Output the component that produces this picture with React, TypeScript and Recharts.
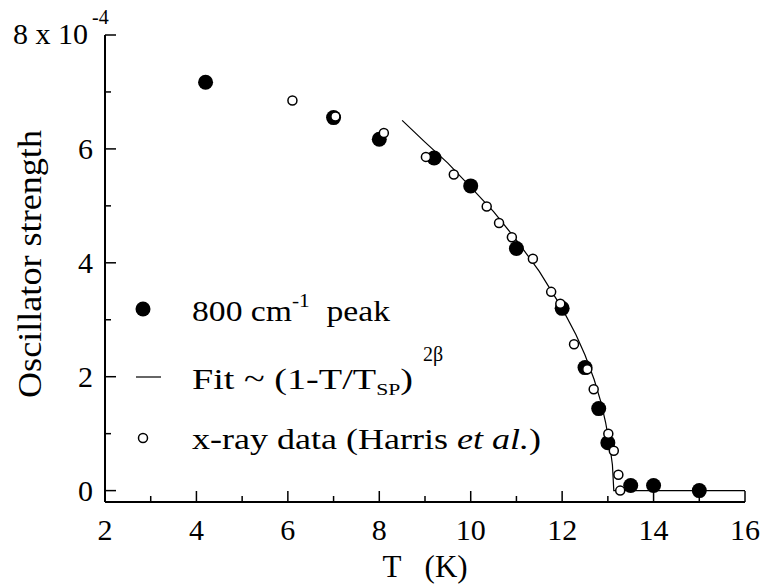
import React from 'react';
import { ComposedChart, Scatter, Line, XAxis, YAxis, Legend } from 'recharts';

// 800 cm-1 peak (filled circles)
const peakTemp = [4.2, 7.0, 8.0, 9.2, 10.0, 11.0, 12.0, 12.5, 12.8, 13.0, 13.5, 14.0, 15.0];
const peakStrength = [7.17, 6.55, 6.17, 5.84, 5.35, 4.25, 3.2, 2.16, 1.44, 0.84, 0.09, 0.09, 0.0];

// x-ray data, Harris et al. (open circles)
const xrayTemp = [6.1, 7.04, 8.1, 9.02, 9.63, 10.35, 10.62, 10.9, 11.36, 11.76, 11.96, 12.26, 12.55, 12.69, 13.01, 13.13, 13.23, 13.27];
const xrayStrength = [6.85, 6.57, 6.28, 5.86, 5.55, 4.99, 4.7, 4.45, 4.07, 3.49, 3.28, 2.57, 2.13, 1.78, 1.0, 0.7, 0.28, 0.0];

// fit curve
const fitTemp = [8.5, 9.0, 9.5, 10.0, 10.5, 11.0, 11.5, 12.0, 12.3, 12.5, 12.7, 12.85, 12.95, 13.05, 13.1, 13.13, 16];
const fitStrength = [6.5, 6.12, 5.75, 5.33, 4.9, 4.4, 3.85, 3.2, 2.74, 2.38, 1.95, 1.55, 1.2, 0.75, 0.45, 0.0, 0.0];

const xTicks = [2, 3, 4, 5, 6, 7, 8, 9, 10, 11, 12, 13, 14, 15, 16];
const yTicks = [0, 1, 2, 3, 4, 5, 6, 7, 8];

const FONT = "'Liberation Serif', serif";

const toPoints = (xs: number[], ys: number[]) => xs.map((t, i) => ({ t, s: ys[i] }));
const peakData = toPoints(peakTemp, peakStrength);
const xrayData = toPoints(xrayTemp, xrayStrength);
const fitData = toPoints(fitTemp, fitStrength);

const MAJOR = 11;
const MINOR = 6;

const BottomTick = (props: any) => {
  const { x, y, payload } = props;
  const v = payload.value;
  const major = v % 2 === 0;
  return (
    <g>
      <line x1={x} x2={x} y1={y} y2={y - (major ? MAJOR : MINOR)} stroke="#000" strokeWidth={1.5} />
      {major && (
        <text x={x} y={y + 38} textAnchor="middle" fontFamily={FONT} fontSize={30} fill="#000">
          {v}
        </text>
      )}
    </g>
  );
};

const TopTick = (props: any) => {
  const { x, y, payload } = props;
  const major = payload.value % 2 === 0;
  return <line x1={x} x2={x} y1={y} y2={y + (major ? MAJOR : MINOR)} stroke="#000" strokeWidth={1.5} />;
};

const LeftTick = (props: any) => {
  const { x, y, payload } = props;
  const v = payload.value;
  const major = v % 2 === 0;
  let label = null;
  if (v === 8) {
    label = (
      <text x={13} y={y + 9} fontFamily={FONT} fontSize={30} fill="#000">
        8 x 10
        <tspan fontSize={20} dx={4} dy={-20}>-4</tspan>
      </text>
    );
  } else if (major) {
    label = (
      <text x={x - 12} y={y + 10} textAnchor="end" fontFamily={FONT} fontSize={30} fill="#000">
        {v}
      </text>
    );
  }
  return (
    <g>
      <line x1={x} x2={x + (major ? MAJOR : MINOR)} y1={y} y2={y} stroke="#000" strokeWidth={1.5} />
      {label}
    </g>
  );
};

const RightTick = (props: any) => {
  const { x, y, payload } = props;
  const major = payload.value % 2 === 0;
  return <line x1={x} x2={x - (major ? MAJOR : MINOR)} y1={y} y2={y} stroke="#000" strokeWidth={1.5} />;
};

const YTitle = () => (
  <text
    x={41}
    y={264}
    transform="rotate(-90, 41, 264)"
    textAnchor="middle"
    fontFamily={FONT}
    fontSize={34}
    fill="#000"
    textLength={268}
    lengthAdjust="spacingAndGlyphs"
  >
    Oscillator strength
  </text>
);

const filledDot = (p: any) => <circle cx={p.cx} cy={p.cy} r={7.5} fill="#000" />;
const openDot = (p: any) => <circle cx={p.cx} cy={p.cy} r={4.5} fill="#fff" stroke="#000" strokeWidth={1.5} />;

const LegendBox = () => (
  <svg width={763} height={585} style={{ display: 'block' }}>
    <g fontFamily={FONT} fontSize={30} fill="#000">
      <circle cx={143} cy={309} r={7.5} fill="#000" />
      <text x={192} y={321} textLength={198} lengthAdjust="spacingAndGlyphs">
        800 cm<tspan fontSize={19} dy={-14}>-1</tspan>
        <tspan dy={14}>{'\u00a0\u00a0peak'}</tspan>
      </text>
      <line x1={136} x2={161} y1={377} y2={377} stroke="#000" strokeWidth={1.2} />
      <text x={192} y={389} textLength={221} lengthAdjust="spacingAndGlyphs">
        Fit ~ (1-T/T<tspan fontSize={17} dy={6}>SP</tspan>
        <tspan dy={-6}>)</tspan>
      </text>
      <text x={423} y={361} fontSize={20}>2{'\u03b2'}</text>
      <circle cx={143} cy={438} r={4.5} fill="#fff" stroke="#000" strokeWidth={1.5} />
      <text x={192} y={449} textLength={349} lengthAdjust="spacingAndGlyphs">
        x-ray data (Harris <tspan fontStyle="italic">et al.</tspan>)
      </text>
    </g>
  </svg>
);

export default function App() {
  return (
    <div style={{ position: 'absolute', left: 0, top: 0, background: '#fff' }}>
      <ComposedChart width={763} height={585} margin={{ top: 35, right: 18, bottom: 0, left: 0 }}>
        <XAxis
          xAxisId="b"
          dataKey="t"
          type="number"
          domain={[2, 16]}
          ticks={xTicks}
          interval={0}
          allowDataOverflow
          height={83}
          tickSize={0}
          tickMargin={0}
          tick={BottomTick}
          axisLine={{ stroke: '#000', strokeWidth: 2 }}
          label={{ value: 'T\u00a0\u00a0\u00a0(K)', position: 'insideBottom', offset: 8, fontFamily: FONT, fontSize: 31, fill: '#000' }}
        />
        <XAxis
          xAxisId="t"
          dataKey="t"
          orientation="top"
          type="number"
          domain={[2, 16]}
          ticks={xTicks}
          interval={0}
          allowDataOverflow
          height={0}
          tickSize={0}
          tickMargin={0}
          tick={TopTick}
          axisLine={{ stroke: '#000', strokeWidth: 2 }}
        />
        <YAxis
          yAxisId="l"
          type="number"
          domain={[-0.2, 8]}
          ticks={yTicks}
          interval={0}
          allowDataOverflow
          width={105}
          tickSize={0}
          tickMargin={0}
          tick={LeftTick}
          axisLine={{ stroke: '#000', strokeWidth: 2 }}
          label={<YTitle />}
        />
        <YAxis
          yAxisId="r"
          orientation="right"
          type="number"
          domain={[-0.2, 8]}
          ticks={yTicks}
          interval={0}
          allowDataOverflow
          width={0}
          tickSize={0}
          tickMargin={0}
          tick={RightTick}
          axisLine={{ stroke: '#000', strokeWidth: 2 }}
        />
        <Line
          xAxisId="b"
          yAxisId="l"
          data={fitData}
          dataKey="s"
          type="linear"
          stroke="#000"
          strokeWidth={1.2}
          dot={false}
          activeDot={false}
          isAnimationActive={false}
        />
        <Scatter xAxisId="b" yAxisId="l" data={peakData} dataKey="s" shape={filledDot} isAnimationActive={false} />
        <Scatter xAxisId="b" yAxisId="l" data={xrayData} dataKey="s" shape={openDot} isAnimationActive={false} />
        <Legend
          layout="vertical"
          align="center"
          verticalAlign="middle"
          wrapperStyle={{ left: 0, top: 0, width: 763, height: 585, pointerEvents: 'none' }}
          content={LegendBox}
        />
      </ComposedChart>
    </div>
  );
}
